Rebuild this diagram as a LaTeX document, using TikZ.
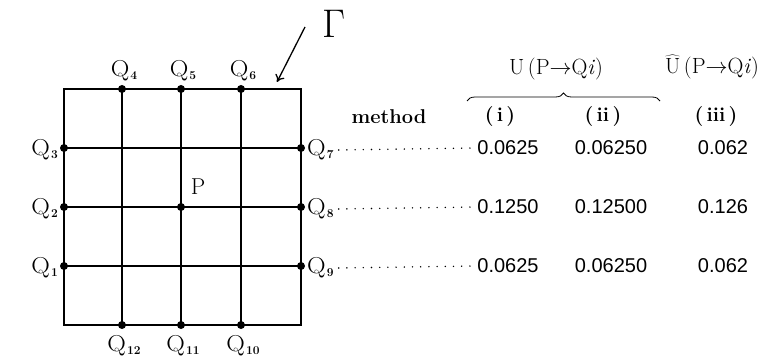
\documentclass[tikz,border=0pt]{standalone}
\usepackage{fix-cm}
\usepackage{fontspec}
\newfontfamily\numfont{Liberation Sans}
\usetikzlibrary{decorations.pathreplacing,arrows.meta}
\newcommand{\qsub}[1]{\scalebox{1.12}[1]{Q}\kern1pt\raisebox{-2.5pt}{\fontsize{12}{12}\selectfont\bfseries #1}}
\begin{document}
\begin{tikzpicture}[x=1pt,y=-1pt,
  gridline/.style={line width=1.4pt},
  gpt/.style={circle,fill=black,inner sep=0pt,minimum size=8pt},
  qlab/.style={font=\fontsize{23}{26}\selectfont, inner sep=1pt},
  num/.style={font=\numfont\fontsize{20}{23}\selectfont, inner sep=1pt},
  hdr/.style={font=\bfseries\fontsize{20}{23}\selectfont},
  ulab/.style={font=\fontsize{22}{25}\selectfont},
  lead/.style={line width=1.6pt, dash pattern=on 0pt off 8.2pt, line cap=round}]
\useasboundingbox (0,0) rectangle (771,363);
% corners
\coordinate (C1) at (64,89);
\coordinate (C2) at (301,89);
\coordinate (C3) at (301,325);
\coordinate (C4) at (64,325);
% boundary points
\coordinate (Q4) at (122,89);
\coordinate (Q5) at (181,89);
\coordinate (Q6) at (241,89);
\coordinate (Q12) at (122,325);
\coordinate (Q11) at (181,325);
\coordinate (Q10) at (241,325);
\coordinate (Q3) at (64,148);
\coordinate (Q2) at (64,207);
\coordinate (Q1) at (64,266);
\coordinate (Q7) at (301,148);
\coordinate (Q8) at (301,207);
\coordinate (Q9) at (301,266);
\coordinate (P) at (181,207);
\draw[gridline] (C1) -- (C2) -- (C3) -- (C4) -- cycle;
\draw[gridline] (Q4) -- (Q12);
\draw[gridline] (Q5) -- (Q11);
\draw[gridline] (Q6) -- (Q10);
\draw[gridline] (Q3) -- (Q7);
\draw[gridline] (Q2) -- (Q8);
\draw[gridline] (Q1) -- (Q9);
\foreach \p in {Q1,Q2,Q3,Q4,Q5,Q6,Q7,Q8,Q9,Q10,Q11,Q12,P}
  \node[gpt] at (\p) {};
% labels
\node[qlab] (lQ4) at (124,71) {\qsub{4}};
\node[qlab] (lQ5) at (183,71) {\qsub{5}};
\node[qlab] (lQ6) at (243,71) {\qsub{6}};
\node[qlab] (lQ12) at (124,346) {\qsub{12}};
\node[qlab] (lQ11) at (183,346) {\qsub{11}};
\node[qlab] (lQ10) at (243,346) {\qsub{10}};
\node[qlab,anchor=east] (lQ3) at (59,150) {\qsub{3}};
\node[qlab,anchor=east] (lQ2) at (59,209) {\qsub{2}};
\node[qlab,anchor=east] (lQ1) at (59,268) {\qsub{1}};
\node[qlab,anchor=west] (lQ7) at (306,150) {\qsub{7}};
\node[qlab,anchor=west] (lQ8) at (306,209) {\qsub{8}};
\node[qlab,anchor=west] (lQ9) at (306,268) {\qsub{9}};
\node[qlab] (lP) at (198,187) {P};
% Gamma and arrow
\node[font=\fontsize{40}{44}\selectfont] (gam) at (334,24) {Γ};
\coordinate (arrtip) at (277,82);
\draw[line width=1.3pt,-{To[length=7pt,width=10pt,line width=1.3pt]}] (305,27) -- (arrtip);
% header
\node[hdr] (meth) at (389,117) {method};
\node[hdr] (h1) at (500,117) {(\,i\,)};
\node[hdr] (h2) at (603,117) {(\,ii\,)};
\node[hdr] (h3) at (716,117) {(\,iii\,)};
\coordinate (brL) at (467,101);
\coordinate (brR) at (660,101);
\draw[line width=0.8pt,decorate,decoration={brace,amplitude=8pt}] (brL) -- (brR);
\node[ulab] (U1) at (556,69) {U\,(P$\rightarrow$Q\textit{i})};
\node[ulab] (U2) at (712,67) {$\widehat{\hbox{U}}$\,(P$\rightarrow$Q\textit{i})};
% values
\node[num] (v11) at (508,148) {0.0625};
\node[num] (v12) at (611,148) {0.06250};
\node[num] (v13) at (723,148) {0.062};
\node[num] (v21) at (508,207) {0.1250};
\node[num] (v22) at (611,207) {0.12500};
\node[num] (v23) at (723,207) {0.126};
\node[num] (v31) at (508,266) {0.0625};
\node[num] (v32) at (611,266) {0.06250};
\node[num] (v33) at (723,266) {0.062};
\draw[lead] ([xshift=4pt]lQ7.east) -- ([xshift=-2pt]v11.west);
\draw[lead] ([xshift=4pt]lQ8.east) -- ([xshift=-2pt]v21.west);
\draw[lead] ([xshift=4pt]lQ9.east) -- ([xshift=-2pt]v31.west);
\end{tikzpicture}
\end{document}
